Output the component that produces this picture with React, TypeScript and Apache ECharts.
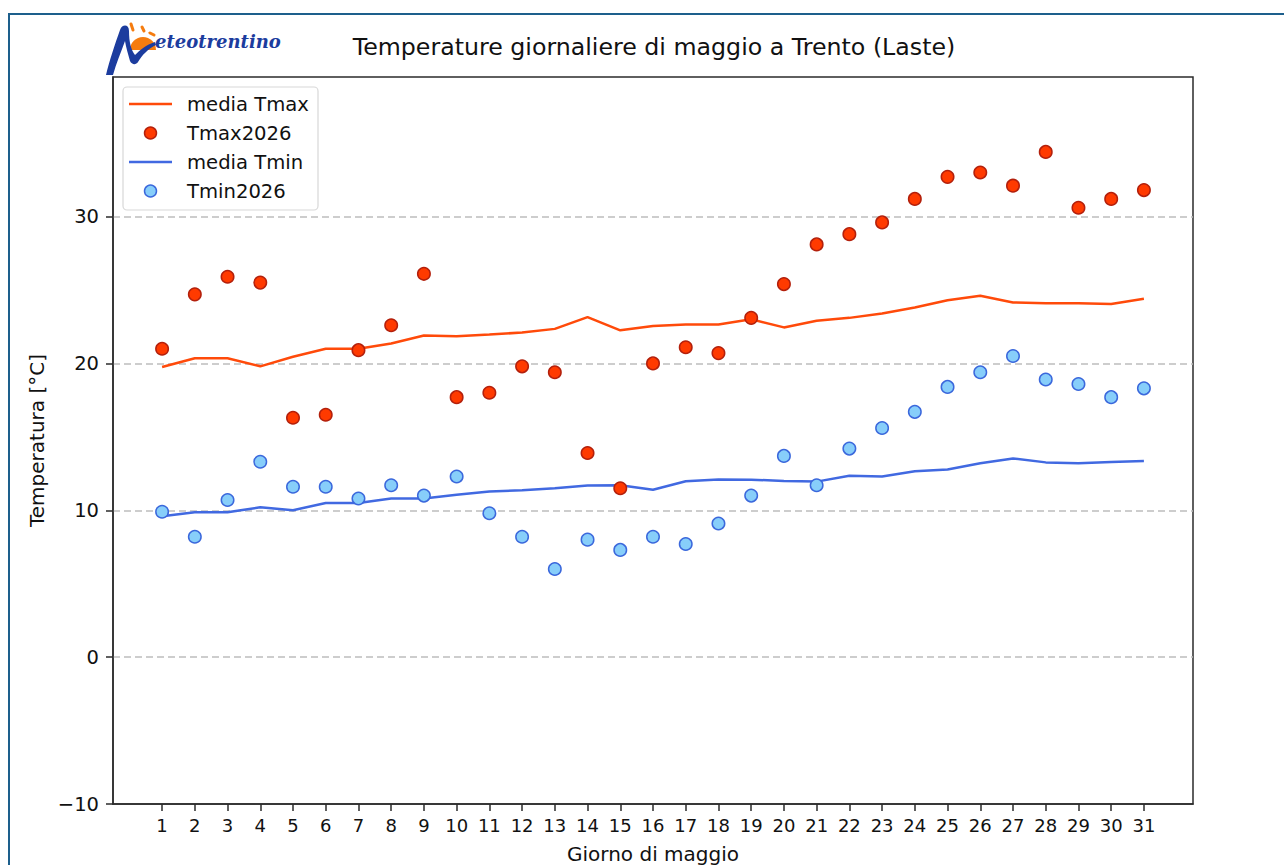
import React, { useEffect, useRef } from "react";
import * as echarts from "echarts";

const days = [1, 2, 3, 4, 5, 6, 7, 8, 9, 10, 11, 12, 13, 14, 15, 16, 17, 18, 19, 20, 21, 22, 23, 24, 25, 26, 27, 28, 29, 30, 31];
const mediaTmax = [19.75, 20.35, 20.35, 19.8, 20.45, 21.0, 21.0, 21.35, 21.9, 21.85, 21.97, 22.1, 22.35, 23.15, 22.25, 22.55, 22.65, 22.65, 23.0, 22.45, 22.9, 23.1, 23.4, 23.8, 24.3, 24.6, 24.15, 24.1, 24.1, 24.05, 24.4];
const tmax2026 = [21.0, 24.7, 25.9, 25.5, 16.3, 16.5, 20.9, 22.6, 26.1, 17.7, 18.0, 19.8, 19.4, 13.9, 11.5, 20.0, 21.1, 20.7, 23.1, 25.4, 28.1, 28.8, 29.6, 31.2, 32.7, 33.0, 32.1, 34.4, 30.6, 31.2, 31.8];
const mediaTmin = [9.6, 9.87, 9.87, 10.2, 10.0, 10.5, 10.5, 10.8, 10.8, 11.05, 11.27, 11.36, 11.5, 11.68, 11.7, 11.4, 11.97, 12.1, 12.08, 12.0, 11.95, 12.35, 12.3, 12.65, 12.78, 13.2, 13.53, 13.26, 13.2, 13.28, 13.35];
const tmin2026 = [9.9, 8.2, 10.7, 13.3, 11.6, 11.6, 10.8, 11.7, 11.0, 12.3, 9.8, 8.2, 6.0, 8.0, 7.3, 8.2, 7.7, 9.1, 11.0, 13.7, 11.7, 14.2, 15.6, 16.7, 18.4, 19.4, 20.5, 18.9, 18.6, 17.7, 18.3];
const yTicks = [-10, 0, 10, 20, 30];

const TITLE = "Temperature giornaliere di maggio a Trento (Laste)";
const FONT = "'DejaVu Sans', sans-serif";

const C_TMAX_LINE = "#ff4a0a";
const C_TMAX_FILL = "#ff3a00";
const C_TMAX_EDGE = "#b3200c";
const C_TMIN_LINE = "#4169e1";
const C_TMIN_FILL = "#87cefa";
const C_TMIN_EDGE = "#3b68dc";
const C_LOGO_BLUE = "#1c3c9e";
const C_LOGO_ORANGE = "#f57c0f";

echarts.graphic.registerShape(
  "mtSwoosh",
  echarts.graphic.extendPath(
    "M106,75 C109,62 115,44 120,30 C122,24 129,24 129,31 C129,42 131,50 135,55 C140,50 146,45 155,42 L156,45 C148,49 142,55 138,62 C136,65 132,65 130,61 C128,54 126,47 125,41 C121,52 116,64 113,75 Z",
    {}
  )
);

export default function App() {
  const ref = useRef<HTMLDivElement>(null);
  useEffect(() => {
    if (!ref.current) return;
    const chart = echarts.init(ref.current, null, { renderer: "svg" });
    const legendRows = [
      { name: "media Tmax", kind: "line", color: C_TMAX_LINE },
      { name: "Tmax2026", kind: "dot", fill: C_TMAX_FILL, edge: C_TMAX_EDGE },
      { name: "media Tmin", kind: "line", color: C_TMIN_LINE },
      { name: "Tmin2026", kind: "dot", fill: C_TMIN_FILL, edge: C_TMIN_EDGE },
    ];
    const legendEls: any[] = [
      {
        type: "rect",
        shape: { x: 123, y: 87, width: 195, height: 123, r: 4 },
        style: { fill: "rgba(255,255,255,0.85)", stroke: "#d8d8d8", lineWidth: 1.2 },
        z: 10,
      },
    ];
    legendRows.forEach((r, i) => {
      const cy = 104 + i * 29;
      if (r.kind === "line") {
        legendEls.push({
          type: "line",
          shape: { x1: 129, y1: cy, x2: 172, y2: cy },
          style: { stroke: r.color, lineWidth: 2.5 },
          z: 11,
        });
      } else {
        legendEls.push({
          type: "circle",
          shape: { cx: 150.5, cy, r: 6 },
          style: { fill: r.fill, stroke: r.edge, lineWidth: 1.5 },
          z: 11,
        });
      }
      legendEls.push({
        type: "text",
        x: 187,
        y: cy,
        style: { text: r.name, fontSize: 19.6, fontFamily: FONT, fill: "#111", verticalAlign: "middle", align: "left" },
        z: 11,
      });
    });

    chart.setOption({
      animation: false,
      backgroundColor: "#ffffff",
      title: {
        text: TITLE,
        left: 649,
        top: 30,
        textAlign: "center",
        textStyle: { fontFamily: FONT, fontSize: 23.7, fontWeight: "normal", color: "#111" },
      },
      grid: {
        left: 113,
        right: 91,
        top: 77,
        bottom: 61,
        outerBoundsMode: "none",
        containLabel: false,
        show: true,
        borderColor: "#2b2b2b",
        borderWidth: 1.5,
        backgroundColor: "#fff",
      },
      xAxis: {
        type: "value",
        min: -0.5,
        max: 32.5,
        name: "Giorno di maggio",
        nameLocation: "middle",
        nameGap: 40,
        nameTextStyle: { fontFamily: FONT, fontSize: 20, color: "#111" },
        axisLine: { show: true, onZero: false, lineStyle: { color: "#2b2b2b", width: 1.5 } },
        axisTick: { show: true, length: 7, customValues: days, lineStyle: { color: "#2b2b2b", width: 1.5 } },
        axisLabel: { customValues: days, margin: 12, fontFamily: FONT, fontSize: 18, color: "#111" },
        splitLine: { show: false },
      },
      yAxis: {
        type: "value",
        min: -10,
        max: 39.5,
        interval: 10,
        name: "Temperatura [°C]",
        nameLocation: "middle",
        nameGap: 66,
        nameTextStyle: { fontFamily: FONT, fontSize: 20, color: "#111" },
        axisLine: { show: true, onZero: false, lineStyle: { color: "#2b2b2b", width: 1.5 } },
        axisTick: { show: true, length: 7, customValues: yTicks, lineStyle: { color: "#2b2b2b", width: 1.5 } },
        axisLabel: {
          customValues: yTicks,
          margin: 14,
          fontFamily: FONT,
          fontSize: 19.5,
          color: "#111",
          formatter: (v: number) => (v < 0 ? "\u2212" + Math.abs(v) : String(v)),
        },
        splitLine: {
          show: true,
          showMinLine: false,
          showMaxLine: true,
          lineStyle: { color: "#bdbdbd", width: 1.5, type: [7, 4] },
        },
      },
      series: [
        {
          name: "media Tmax",
          type: "line",
          data: days.map((d, i) => [d, mediaTmax[i]]),
          showSymbol: false,
          symbol: "none",
          lineStyle: { color: C_TMAX_LINE, width: 2.5 },
          z: 2,
        },
        {
          name: "Tmax2026",
          type: "scatter",
          data: days.map((d, i) => [d, tmax2026[i]]),
          symbolSize: 12.5,
          itemStyle: { color: C_TMAX_FILL, borderColor: C_TMAX_EDGE, borderWidth: 1.5, opacity: 1 },
          z: 3,
        },
        {
          name: "media Tmin",
          type: "line",
          data: days.map((d, i) => [d, mediaTmin[i]]),
          showSymbol: false,
          symbol: "none",
          lineStyle: { color: C_TMIN_LINE, width: 2.5 },
          z: 2,
        },
        {
          name: "Tmin2026",
          type: "scatter",
          data: days.map((d, i) => [d, tmin2026[i]]),
          symbolSize: 12.5,
          itemStyle: { color: C_TMIN_FILL, borderColor: C_TMIN_EDGE, borderWidth: 1.5, opacity: 1 },
          z: 3,
        },
      ],
      graphic: [
        {
          type: "rect",
          shape: { x: 9, y: 14, width: 1300, height: 900 },
          style: { fill: "none", stroke: "#1d5f8c", lineWidth: 2 },
          silent: true,
          z: 20,
        },
        {
          type: "group",
          z: 15,
          children: [
            {
              type: "sector",
              shape: { cx: 143, cy: 50, r0: 0, r: 13, startAngle: Math.PI, endAngle: Math.PI * 2, clockwise: true },
              style: { fill: C_LOGO_ORANGE },
            },
            { type: "line", shape: { x1: 131, y1: 24, x2: 133, y2: 30 }, style: { stroke: C_LOGO_ORANGE, lineWidth: 3, lineCap: "round" } },
            { type: "line", shape: { x1: 142, y1: 27, x2: 144, y2: 31 }, style: { stroke: C_LOGO_ORANGE, lineWidth: 3, lineCap: "round" } },
            { type: "line", shape: { x1: 150, y1: 33, x2: 154, y2: 35 }, style: { stroke: C_LOGO_ORANGE, lineWidth: 3, lineCap: "round" } },
            { type: "mtSwoosh", x: 0, y: 0, style: { fill: C_LOGO_BLUE } },
            {
              type: "text",
              x: 155,
              y: 50,
              style: {
                text: "eteotrentino",
                fontFamily: "'DejaVu Serif', serif",
                fontStyle: "italic",
                fontWeight: "bold",
                fontSize: 18,
                fill: C_LOGO_BLUE,
                verticalAlign: "bottom",
                align: "left",
              },
            },
          ],
        },
        ...legendEls,
      ],
    });
    return () => chart.dispose();
  }, []);
  return <div ref={ref} style={{ position: "fixed", left: 0, top: 0, width: 1284, height: 865 }} />;
}
